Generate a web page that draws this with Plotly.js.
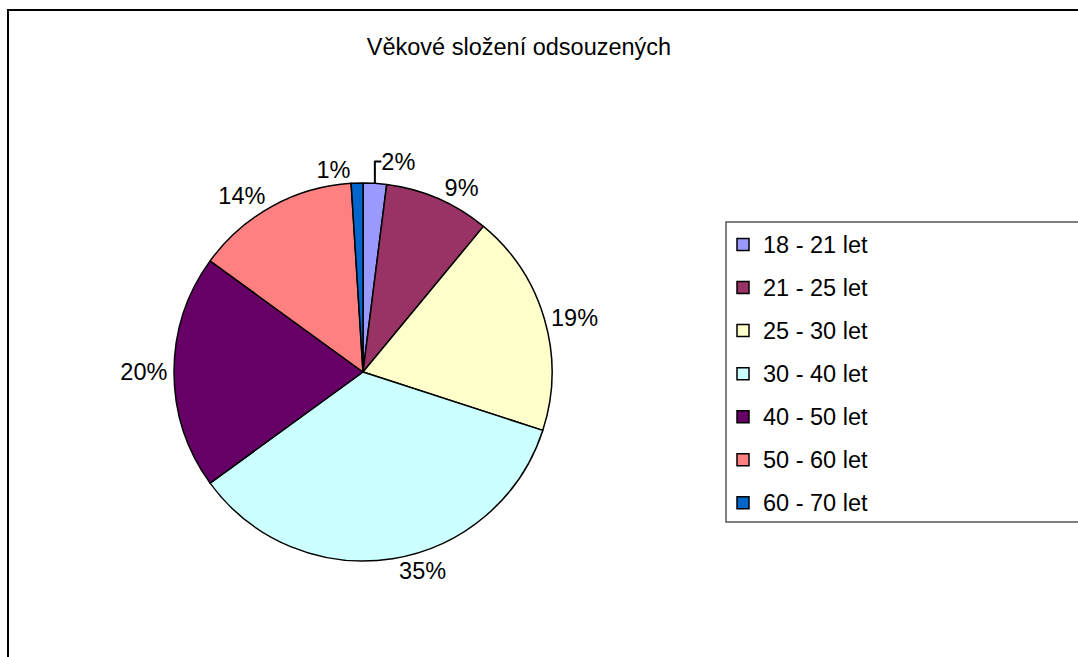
<!DOCTYPE html>
<html>
<head>
<meta charset="utf-8">
<script src="https://cdn.plot.ly/plotly-3.0.1.min.js"></script>
<style>html,body{margin:0;padding:0;background:#fff}#chart{width:1078px;height:657px}</style>
</head>
<body>
<div id="chart"></div>
<script>
const categories = ["18 - 21 let", "21 - 25 let", "25 - 30 let", "30 - 40 let", "40 - 50 let", "50 - 60 let", "60 - 70 let"];
const shares = [2, 9, 19, 35, 20, 14, 1];
const sliceColors = ["#9999FF", "#993366", "#FFFFCC", "#CCFFFF", "#660066", "#FF8080", "#0066CC"];
const chartTitle = "Věkové složení odsouzených";

const W = 1078, H = 657;
const cx = 363, cy = 372, R = 189;
const FS = 23.5;

const trace = {
  type: "pie",
  labels: categories.map(c => '<span style="font-size:' + FS + 'px;baseline-shift:4px">' + c + '</span>'),
  values: shares,
  sort: false,
  direction: "clockwise",
  rotation: 0,
  marker: { colors: sliceColors, line: { color: "#000", width: 1.5 } },
  textinfo: "percent",
  textposition: "outside",
  outsidetextfont: { size: FS, color: "#000", family: "Liberation Sans, Arial, sans-serif" },
  hoverinfo: "label+percent",
  domain: {
    x: [(cx - R) / W, (cx + R) / W],
    y: [(H - cy - R) / H, (H - cy + R) / H]
  },
  automargin: false
};

const layout = {
  width: W, height: H,
  margin: { l: 0, r: 0, t: 0, b: 0 },
  paper_bgcolor: "#fff",
  font: { family: "Liberation Sans, Arial, sans-serif", color: "#000", size: FS },
  title: {
    text: chartTitle,
    font: { size: FS, color: "#000" },
    x: 519 / W, xanchor: "center", xref: "paper",
    y: 1 - 47 / H, yanchor: "middle", yref: "container"
  },
  showlegend: true,
  legend: {
    x: 723 / W, xanchor: "left",
    y: 1 - 218 / H, yanchor: "top",
    font: { size: 30.8, color: "#000" },
    bgcolor: "rgba(0,0,0,0)",
    borderwidth: 0
  },
  shapes: [
    { type: "rect", xref: "paper", yref: "paper", x0: 8 / W, x1: 1.05, y0: -0.05, y1: 1 - 10 / H,
      line: { color: "#000", width: 2 }, fillcolor: "rgba(0,0,0,0)", layer: "below" },
    { type: "rect", xref: "paper", yref: "paper", x0: 726 / W, x1: 1.05, y0: 1 - 522 / H, y1: 1 - 222 / H,
      line: { color: "#555", width: 1.5 }, fillcolor: "rgba(0,0,0,0)", layer: "below" }
  ]
};

Plotly.newPlot("chart", [trace], layout, { displayModeBar: false, staticPlot: true });
</script>
</body>
</html>
